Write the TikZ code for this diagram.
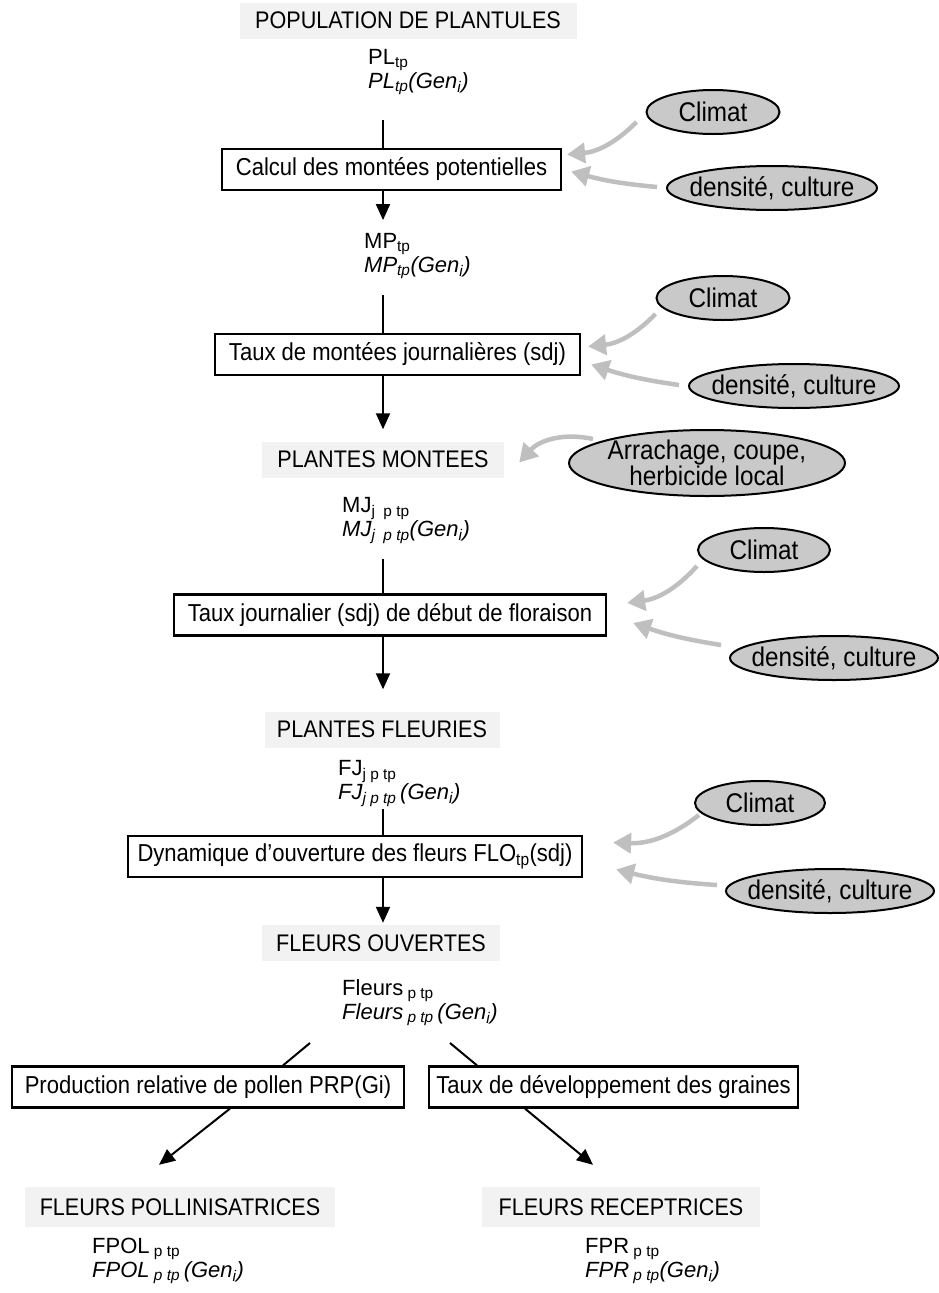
\documentclass[tikz,border=0pt]{standalone}
\usepackage{fontspec}
\setmainfont{Liberation Sans}[FakeStretch=0.9]
\newfontfamily\varfont{Liberation Sans}
\newcommand\serre{\lineskiplimit -30pt\relax}
\usetikzlibrary{shapes.geometric,arrows.meta}

\tikzset{
  etape/.style={draw, line width=2.2pt, minimum height=41, inner xsep=2, font=\fontsize{24.5}{28}\selectfont},
  titre/.style={fill=gray!10, minimum height=36, inner xsep=2, font=\fontsize{24}{28}\selectfont},
  valeur/.style={align=left, anchor=west, inner sep=0, font={\varfont\fontsize{22}{24}\selectfont\serre}},
  facteur/.style={ellipse, draw, line width=2pt, fill=gray!42, inner xsep=-20pt, inner ysep=-5pt, minimum height=44, font=\fontsize{27}{26}\selectfont},
  flux/.style={line width=2pt},
  fleche/.style={flux, -{Triangle[length=16pt,width=14pt]}},
  influence/.style={line width=4.5pt, gray!50, -{Triangle[length=18pt,width=20pt]}},
}

\begin{document}
\begin{tikzpicture}[x=1pt, y=-1pt]

\useasboundingbox (0,0) rectangle (939,1293);

\coordinate (axe) at (383,0);

% Plantules
\node [titre, minimum width=337] (popu) at (408,20.5) {POPULATION DE PLANTULES};
\node [valeur] (pl) at (368,72) {PL\textsubscript{tp}\\\textit{PL\textsubscript{tp}(Gen\textsubscript{i})}};
\node [etape, minimum width=339] (calc) at (391.5,169.5) {Calcul des montées potentielles};
\node [facteur, minimum width=133] (clim1) at (713,112) {Climat};
\node [facteur, minimum width=210] (dens1) at (772,188) {densité, culture};

% Montees potentielles
\node [valeur] (mp) at (364,256) {MP\textsubscript{tp}\\\textit{MP\textsubscript{tp}(Gen\textsubscript{i})}};
\node [etape, minimum width=365] (taux) at (397.5,354.5) {Taux de montées journalières (sdj)};
\node [facteur, minimum width=133] (clim2) at (723,298) {Climat};
\node [facteur, minimum width=210] (dens2) at (794,386) {densité, culture};

% Plantes montees
\node [titre, minimum width=242] (mont) at (383,459.5) {PLANTES MONTEES};
\node [facteur, minimum width=276, minimum height=66, inner ysep=-14pt, align=center] (arra) at (707,463) {Arrachage, coupe,\\herbicide local};
\node [valeur] (mj) at (342,521) {MJ\textsubscript{j\ \ p tp}\\\textit{MJ\textsubscript{j\ \ p tp}(Gen\textsubscript{i})}};
\node [etape, minimum width=432] (flor) at (390,615) {Taux journalier (sdj) de début de floraison};
\node [facteur, minimum width=132] (clim3) at (764,550) {Climat};
\node [facteur, minimum width=208] (dens3) at (834,658) {densité, culture};

% Plantes fleuries
\node [titre, minimum width=235] (fleu) at (382,729.5) {PLANTES FLEURIES};
\node [valeur] (fj) at (338,784) {FJ\textsubscript{j p tp}\\\textit{FJ\textsubscript{j p tp}\,(Gen\textsubscript{i})}};
\node [etape, minimum width=454] (dyna) at (355,856.5) {Dynamique d’ouverture des fleurs FLO\textsubscript{tp}(sdj)};
\node [facteur, minimum width=130] (clim4) at (760,803) {Climat};
\node [facteur, minimum width=208] (dens4) at (830,891) {densité, culture};

% Fleurs ouvertes
\node [titre, minimum width=238] (ouve) at (381,943) {FLEURS OUVERTES};
\node [valeur] (fleurs) at (342,1003) {Fleurs\textsubscript{\ p tp}\\\textit{Fleurs\textsubscript{\ p tp}\,(Gen\textsubscript{i})}};
\node [etape, minimum width=392] (prp) at (208,1087) {Production relative de pollen PRP(Gi)};
\node [etape, minimum width=369] (grai) at (613.5,1087) {Taux de développement des graines};

% Pollinisatrices / receptrices
\node [titre, minimum width=310, minimum height=40] (poll) at (180,1207) {FLEURS POLLINISATRICES};
\node [titre, minimum width=278, minimum height=40] (rece) at (621,1207) {FLEURS RECEPTRICES};
\node [valeur] (fpol) at (92,1261) {FPOL\textsubscript{\ p tp}\\\textit{FPOL\textsubscript{\ p tp}\,(Gen\textsubscript{i})}};
\node [valeur] (fpr) at (585,1261) {FPR\textsubscript{\ p tp}\\\textit{FPR\textsubscript{\ p tp}(Gen\textsubscript{i})}};

%==============================================================
% Flux
\draw [flux, shorten <=25] (pl.south -| axe) -- (calc.north -| axe);
\draw [fleche, shorten >=13] (calc.south -| axe) -- (mp.north -| axe);
\draw [flux, shorten <=16] (mp.south -| axe) -- (taux.north -| axe);
\draw [fleche, shorten >=12] (taux.south -| axe) -- (mont.north -| axe);
\draw [flux, shorten <=15] (mj.south -| axe) -- (flor.north -| axe);
\draw [fleche, shorten >=22] (flor.south -| axe) -- (fleu.north -| axe);
\draw [flux, shorten <=2] (fj.south -| axe) -- (dyna.north -| axe);
\draw [fleche, shorten >=2] (dyna.south -| axe) -- (ouve.north -| axe);

% Separation
\coordinate (g1) at (310,1043);
\coordinate (g2) at (450,1043);
\draw [flux] (g1) -- ([xshift=75]prp.north);
\draw [flux] (g2) -- ([xshift=-136.5]grai.north);
\draw [fleche] ([xshift=22]prp.south) -- ([shift={(-21,-22)}]poll.north);
\draw [fleche] ([xshift=-88.5]grai.south) -- ([shift={(-28,-22)}]rece.north);

% Influences
\draw [influence] ([shift={(-9,10)}]clim1.west) to[bend left=20] ([shift={(5,-15)}]calc.east);
\draw [influence] ([shift={(-9,-1)}]dens1.west) to[bend left=5] ([shift={(9,2)}]calc.east);
\draw [influence] ([shift={(0,16)}]clim2.west) to[bend left=20] ([shift={(7,-8)}]taux.east);
\draw [influence] ([shift={(-9,-1)}]dens2.west) to[bend left=5] ([shift={(10,10)}]taux.east);
\draw [influence] ([shift={(25,-24)}]arra.west) to[bend right=30] ([shift={(15,3)}]mont.east);
\draw [influence] ([shift={(0,16)}]clim3.west) to[bend left=20] ([shift={(20,-12)}]flor.east);
\draw [influence] ([shift={(-8,-13)}]dens3.west) to[bend left=5] ([shift={(26,8)}]flor.east);
\draw [influence] ([shift={(5,12)}]clim4.west) to[bend left=20] ([shift={(30,-14)}]dyna.east);
\draw [influence] ([shift={(-8,-6)}]dens4.west) to[bend left=5] ([shift={(33,13)}]dyna.east);

\end{tikzpicture}
\end{document}
